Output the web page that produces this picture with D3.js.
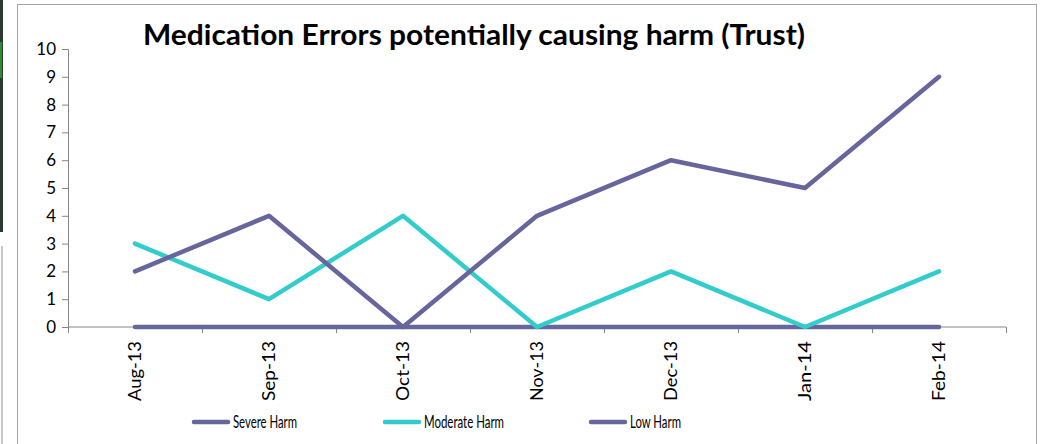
<!DOCTYPE html>
<html><head><meta charset="utf-8">
<script src="https://cdn.jsdelivr.net/npm/d3@7"></script>
<style>body{margin:0;background:#fff}svg{display:block}</style>
</head><body>
<svg id="c" width="1041" height="444"></svg>
<script>
const categories = ["Aug-13","Sep-13","Oct-13","Nov-13","Dec-13","Jan-14","Feb-14"];
const severeHarm = [2,4,0,4,6,5,9];
const moderateHarm = [3,1,4,0,2,0,2];
const lowHarm = [0,0,0,0,0,0,0];
const yTicks = [0,1,2,3,4,5,6,7,8,9,10];
const seriesNames = ["Severe Harm","Moderate Harm","Low Harm"];
const seriesColors = ["#67669c","#33cccc","#67669c"];

const svg = d3.select("#c");
const font = "Lato, 'Open Sans', sans-serif";

// left-edge spreadsheet remnants
svg.append("rect").attr("x",0).attr("y",0).attr("width",3).attr("height",232).attr("fill","#2a3a30");
svg.append("rect").attr("x",0).attr("y",42).attr("width",2).attr("height",36).attr("fill","#2e8b2e");
svg.append("line").attr("x1",2).attr("x2",2).attr("y1",246).attr("y2",444).attr("stroke","#c8c8c8").attr("stroke-width",2);

// frame
svg.append("rect").attr("x",17.5).attr("y",4.5).attr("width",1019).attr("height",460)
  .attr("fill","none").attr("stroke","#a6a6a6").attr("stroke-width",1);

const x = d3.scaleBand().domain(categories).range([68,1006]);
const y = d3.scaleLinear().domain([0,10]).range([327,49]);

// title
svg.append("text").attr("x",143).attr("y",45).attr("font-family",font).attr("font-weight","bold")
  .attr("font-size",28).attr("fill","#000")
  .attr("textLength",662).attr("lengthAdjust","spacingAndGlyphs")
  .text("Medication Errors potentially causing harm (Trust)");

// y axis
const ya = svg.append("g").attr("transform","translate(68,0)")
  .call(d3.axisLeft(y).tickValues(yTicks).tickSize(6).tickPadding(6).tickFormat(d3.format("d")));
ya.select(".domain").attr("stroke","#868686");
ya.selectAll(".tick line").attr("stroke","#868686");
ya.selectAll("text").attr("font-family",font).attr("font-size",17).attr("fill","#000");

// x axis
const xa = svg.append("g").attr("transform","translate(0,327)")
  .call(d3.axisBottom(x).tickSize(0).tickPadding(0));
xa.select(".domain").attr("stroke","#868686").attr("d","M68,0H1006");
xa.selectAll(".tick line").remove();
xa.selectAll(".tick text").attr("font-family",font).attr("font-size",17).attr("font-weight",400).attr("fill","#000")
  .attr("transform","rotate(-90)").attr("text-anchor","end").attr("dy","0.35em").attr("x",-14).attr("y",0)
  .attr("textLength",60).attr("lengthAdjust","spacingAndGlyphs");
// category separator ticks
const bounds = categories.map(c => x(c)).concat([x.range()[1]]);
svg.append("g").selectAll("line").data(bounds).join("line")
  .attr("x1",d=>d+0.5).attr("x2",d=>d+0.5).attr("y1",327).attr("y2",333)
  .attr("stroke","#868686");

// lines
const series = [severeHarm, moderateHarm, lowHarm];
const line = d3.line().x((d,i)=>x(categories[i])+x.bandwidth()/2).y(d=>y(d));
[2,1,0].forEach(k => {
  svg.append("path").attr("d", line(series[k])).attr("fill","none")
    .attr("stroke", seriesColors[k]).attr("stroke-width",4.5)
    .attr("stroke-linejoin","round").attr("stroke-linecap","round");
});

// legend
const legX = [192,383,589];
const legW = [64,80,51];
const lg = svg.append("g");
seriesNames.forEach((n,i) => {
  lg.append("line").attr("x1",legX[i]+2).attr("x2",legX[i]+36).attr("y1",422).attr("y2",422)
    .attr("stroke",seriesColors[i]).attr("stroke-width",4.5).attr("stroke-linecap","round");
  lg.append("text").attr("x",legX[i]+41).attr("y",422).attr("dy","0.35em")
    .attr("font-family",font).attr("font-size",17).attr("fill","#000")
    .attr("textLength",legW[i]).attr("lengthAdjust","spacingAndGlyphs").text(n);
});
</script>
</body></html>
